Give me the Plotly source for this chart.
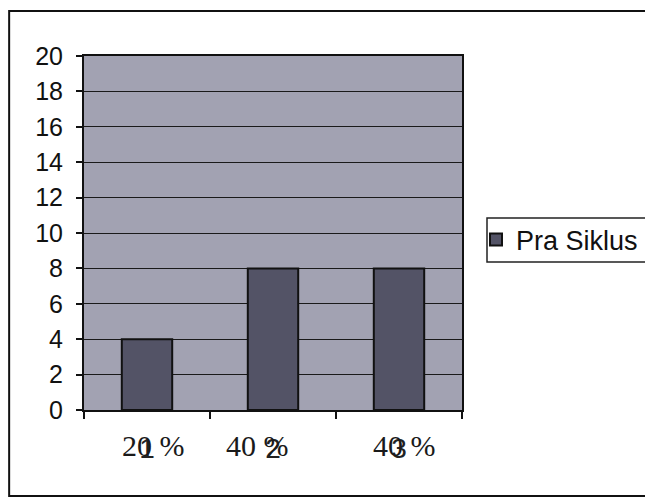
import plotly.graph_objects as go

categories = ["1", "2", "3"]
values = [4, 8, 8]
percent_labels = ["20 %", "40 %", "40 %"]
series_name = "Pra Siklus"
y_ticks = list(range(0, 21, 2))

# horizontal offsets (px) of the typed percentage captions
caption_shifts = [6, -16, 5]

fig = go.Figure()
fig.add_trace(go.Bar(
    x=categories,
    y=values,
    name=series_name,
    marker=dict(color="#535366", line=dict(color="#111111", width=2)),
    showlegend=True,
))

# percentage text written under each category (positioned by category index)
for idx, (txt, dx) in enumerate(zip(percent_labels, caption_shifts)):
    fig.add_annotation(
        x=idx, y=0, xref="x", yref="y",
        text=txt, showarrow=False,
        font=dict(family="Liberation Serif, Times New Roman, serif", size=30,
                  color="#1a1a1a"),
        yshift=-35, xshift=dx,
    )

# outer chart frame
fig.add_shape(
    type="rect", xref="paper", yref="paper",
    x0=-0.198, x1=1.6, y0=-0.243, y1=1.127,
    line=dict(color="#111111", width=2), fillcolor="rgba(0,0,0,0)",
    layer="below",
)

# legend frame
fig.add_shape(
    type="rect", xref="paper", yref="paper",
    x0=(487 - 84) / 378, x1=(660 - 84) / 378,
    y0=(410 - 262) / 354, y1=(410 - 218) / 354,
    line=dict(color="#222222", width=1.5), fillcolor="white",
    layer="below",
)

fig.update_layout(
    width=645, height=502,
    margin=dict(l=84, r=183, t=56, b=92, autoexpand=False),
    paper_bgcolor="white",
    plot_bgcolor="#a2a2b2",
    bargap=0.6,
    font=dict(family="Liberation Sans", color="#111111"),
    legend=dict(
        x=(476 - 84) / 378, y=(410 - 240) / 354, xanchor="left", yanchor="middle",
        borderwidth=0, bgcolor="rgba(0,0,0,0)",
        font=dict(family="Liberation Sans", size=27, color="#111111"),
        itemwidth=30,
    ),
    xaxis=dict(
        type="category",
        range=[-0.5, 2.5],
        showline=True, linecolor="#111111", linewidth=2,
        mirror=True,
        ticks="outside", ticklen=7, tickcolor="#111111", tickwidth=1.5,
        tickson="boundaries",
        tickfont=dict(family="Liberation Sans", size=28, color="#222222"),
        ticklabelstandoff=12,
        showgrid=False,
    ),
    yaxis=dict(
        range=[0, 20],
        tickvals=y_ticks,
        showline=True, linecolor="#111111", linewidth=2,
        mirror=True,
        ticks="outside", ticklen=6, tickcolor="#111111", tickwidth=1.5,
        tickfont=dict(family="Liberation Sans", size=25, color="#111111"),
        ticklabelstandoff=8,
        showgrid=True, gridcolor="#1a1a1a", gridwidth=1,
        zeroline=False,
    ),
)

fig.write_html("out.html")
